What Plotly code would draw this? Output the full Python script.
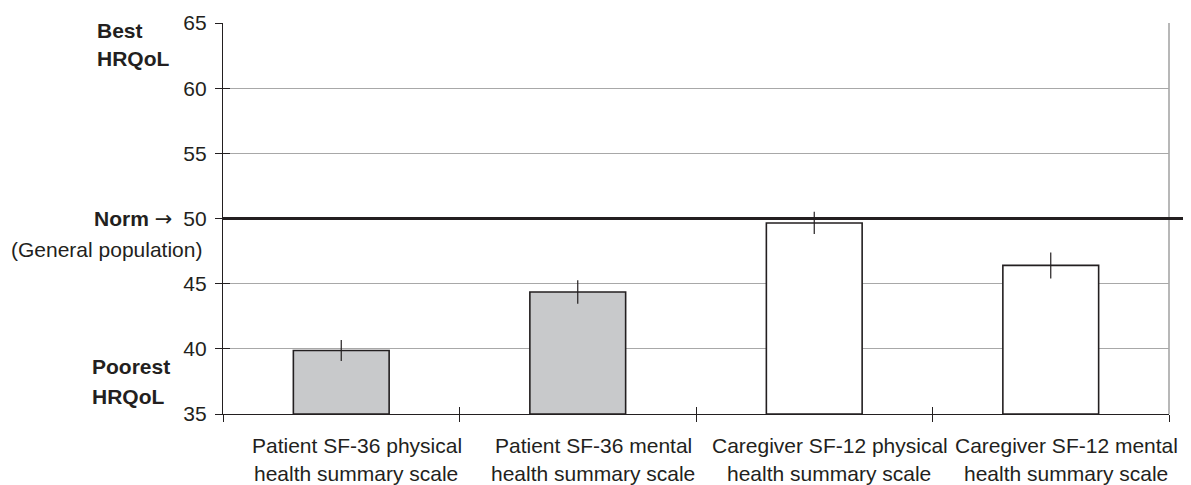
import plotly.graph_objects as go

categories = ["Patient SF-36 physical", "Patient SF-36 mental",
              "Caregiver SF-12 physical", "Caregiver SF-12 mental"]
label_line2 = ["health summary scale"] * 4
values = [39.87, 44.36, 49.66, 46.4]
errors = [0.8, 0.9, 0.85, 1.0]
fill_colors = ["#c8c9cb", "#c8c9cb", "#ffffff", "#ffffff"]
y_ticks = [35, 40, 45, 50, 55, 60, 65]
NORM = 50
Y_MIN, Y_MAX = 35, 65

INK = "#231f20"
FONT = "Liberation Sans, Arial, sans-serif"
FS = 21
BODY = 8  # default page margin of the html body
W, H = 1191 - BODY, 485 - BODY
ML, MR, MT, MB = 223 - BODY, 22, 23 - BODY, 71
pw = W - ML - MR

def px_to_paper_x(px):
    return (px - BODY - ML) / pw

fig = go.Figure()
fig.add_trace(go.Bar(
    x=categories, y=[v - Y_MIN for v in values], base=Y_MIN,
    marker=dict(color=fill_colors, line=dict(color=INK, width=1.6)),
    width=0.405,
    error_y=dict(type="data", array=errors, color=INK, thickness=1.2, width=0),
    showlegend=False, hoverinfo="skip",
))

# invisible trace anchoring overlay axes
fig.add_trace(go.Scatter(x=[-0.5, 3.5], y=[Y_MIN, Y_MIN], xaxis="x2", yaxis="y2",
                         mode="lines", line=dict(width=0), showlegend=False,
                         hoverinfo="skip"))

fig.update_layout(
    width=W, height=H,
    margin=dict(l=ML, r=MR, t=MT, b=MB, autoexpand=False),
    paper_bgcolor="white", plot_bgcolor="white",
    font=dict(family=FONT, size=FS, color=INK),
    xaxis=dict(type="category", categoryarray=categories, range=[-0.5, 3.5],
               showticklabels=False, ticks="outside", tickson="boundaries",
               ticklen=7, tickcolor=INK, tickwidth=1,
               showline=True, linecolor=INK, linewidth=1.3,
               showgrid=False, zeroline=False, fixedrange=True),
    yaxis=dict(range=[Y_MIN, Y_MAX], tickvals=y_ticks, ticks="outside",
               ticklen=7, tickcolor=INK, tickwidth=1,
               showline=True, linecolor=INK, linewidth=1.3,
               showgrid=True, gridcolor="#a8a8a8", gridwidth=1,
               zeroline=False, ticklabelstandoff=4,
               tickfont=dict(size=FS, color=INK), fixedrange=True),
    xaxis2=dict(overlaying="x", anchor="y", range=[-0.5, 3.5],
                tickvals=[-0.5, 0.5, 1.5, 2.5, 3.5], ticks="inside",
                ticklen=7, tickcolor=INK, tickwidth=1, showticklabels=False,
                showgrid=False, zeroline=False, showline=False, fixedrange=True),
    yaxis2=dict(overlaying="y", anchor="x", range=[Y_MIN, Y_MAX],
                tickvals=y_ticks, ticks="inside", ticklen=7, tickcolor=INK,
                tickwidth=1, showticklabels=False, showgrid=False,
                zeroline=False, showline=False, fixedrange=True),
)

# right border (gray)
fig.add_shape(type="line", xref="paper", yref="paper", x0=1, x1=1, y0=0, y1=1,
              line=dict(color="#a0a0a0", width=1.5), layer="below")
# norm line
fig.add_shape(type="line", xref="paper", yref="y", x0=0, x1=px_to_paper_x(1190),
              y0=NORM, y1=NORM, line=dict(color=INK, width=3.2), layer="above")

# category labels
for i, (l1, l2) in enumerate(zip(categories, label_line2)):
    fig.add_annotation(x=categories[i], xref="x", y=0, yref="paper",
                       text=l1, showarrow=False, xanchor="center",
                       yanchor="middle", yshift=-31, xshift=16,
                       font=dict(size=FS, color=INK))
    fig.add_annotation(x=categories[i], xref="x", y=0, yref="paper",
                       text=l2, showarrow=False, xanchor="center",
                       yanchor="middle", yshift=-59, xshift=15, borderpad=0,
                       font=dict(size=FS, color=INK))

ARROW = '<span style="font-family:DejaVu Sans">\u2192</span>'
side_labels = [
    ("<b>Best</b>", 95, 64.46, "left"),
    ("<b>HRQoL</b>", 95, 62.3, "left"),
    ("<b>Norm</b> " + ARROW, 174, 50, "right"),
    ("(General population)", 204, 47.65, "right"),
    ("<b>Poorest</b>", 90, 38.63, "left"),
    ("<b>HRQoL</b>", 90, 36.33, "left"),
]
for txt, px, yv, anc in side_labels:
    fig.add_annotation(x=px_to_paper_x(px), xref="paper", y=yv, yref="y",
                       text=txt, showarrow=False, xanchor=anc, yanchor="middle",
                       font=dict(size=FS, color=INK))

fig.write_html("out.html")
